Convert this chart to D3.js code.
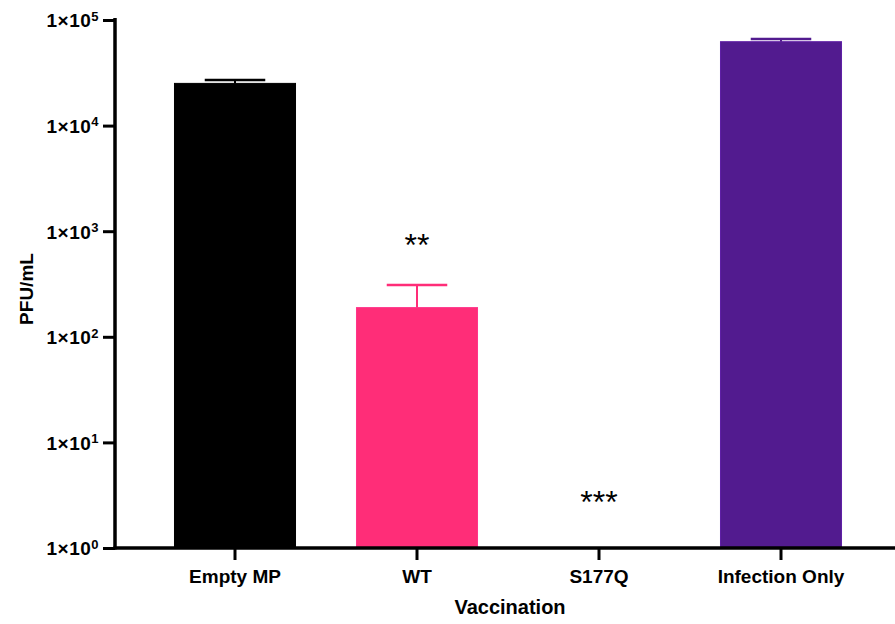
<!DOCTYPE html>
<html>
<head>
<meta charset="utf-8">
<script src="https://cdn.jsdelivr.net/npm/d3@7"></script>
<style>
  body { margin: 0; background: #fff; }
  text { font-family: "Liberation Sans", Arial, sans-serif; font-weight: bold; }
</style>
</head>
<body>
<svg id="chart" width="895" height="624"></svg>
<script>
const groups = ["Empty MP", "WT", "S177Q", "Infection Only"];
const means = [25100, 189, 1, 62300];
const errTop = [27000, 309, 1, 66000];
const colors = ["#000000", "#ff2d78", "#ffffff", "#521b8f"];
const stars = ["", "**", "***", ""];
const starLevel = [0, 1000, 3.7, 0]; // where the stars sit
const tickVals = [1, 10, 100, 1000, 10000, 100000];
const tickExp = [0, 1, 2, 3, 4, 5];

const svg = d3.select("#chart");

const y = d3.scaleLog().domain([1, 100000]).range([548, 20]);
const x = d3.scaleBand().domain(groups).range([144, 872])
    .paddingInner(0.335).paddingOuter(0.1675);

// bars
svg.selectAll(".bar").data(groups).enter().append("rect")
    .attr("class", "bar")
    .attr("x", d => x(d))
    .attr("width", x.bandwidth())
    .attr("y", (d, i) => y(means[i]))
    .attr("height", (d, i) => 548 - y(means[i]))
    .attr("fill", (d, i) => colors[i])
    .attr("stroke", (d, i) => i == 0 ? "#000" : d3.color(colors[i]).brighter(0.4))
    .attr("stroke-width", 1);

// error bars (upper only)
const errs = svg.selectAll(".err").data(groups.filter((d, i) => errTop[i] > means[i]))
    .enter().append("g").attr("class", "err");
errs.append("line")
    .attr("x1", d => x(d) + x.bandwidth() / 2)
    .attr("x2", d => x(d) + x.bandwidth() / 2)
    .attr("y1", d => y(means[groups.indexOf(d)]))
    .attr("y2", d => y(errTop[groups.indexOf(d)]))
    .attr("stroke", d => colors[groups.indexOf(d)])
    .attr("stroke-width", 2);
errs.append("line")
    .attr("x1", d => x(d) + x.bandwidth() / 4)
    .attr("x2", d => x(d) + x.bandwidth() * 3 / 4)
    .attr("y1", d => y(errTop[groups.indexOf(d)]))
    .attr("y2", d => y(errTop[groups.indexOf(d)]))
    .attr("stroke", d => colors[groups.indexOf(d)])
    .attr("stroke-width", 2.5);

// significance stars
svg.selectAll(".star").data(groups.filter((d, i) => stars[i]))
    .enter().append("text")
    .attr("x", d => x(d) + x.bandwidth() / 2)
    .attr("y", d => y(starLevel[groups.indexOf(d)]) + 25)
    .attr("text-anchor", "middle")
    .style("font-size", "32px")
    .style("font-weight", "normal")
    .text(d => stars[groups.indexOf(d)]);

// y axis
const yAxis = svg.append("g").attr("transform", "translate(115,0)")
    .call(d3.axisLeft(y).tickValues(tickVals).tickSize(12).tickFormat(""));
yAxis.select(".domain").attr("stroke-width", 3.5).attr("d", "M0,18V549.5");
yAxis.selectAll(".tick line").attr("stroke-width", 3);
yAxis.selectAll(".tick").append("text")
    .attr("x", -16).attr("dy", "0.36em")
    .attr("text-anchor", "end")
    .attr("fill", "#000")
    .style("font-size", "19px")
    .style("letter-spacing", "0.5px")
    .each(function(d, i) {
        const t = d3.select(this);
        t.append("tspan").text("1×10");
        t.append("tspan").attr("dy", "-0.5em").style("font-size", "13px").text(tickExp[i]);
    });

// x axis
const xAxis = svg.append("g").attr("transform", "translate(0,548)")
    .call(d3.axisBottom(x).tickSize(12).tickSizeOuter(0));
xAxis.select(".domain").attr("stroke-width", 3.5).attr("d", "M113.5,0H895");
xAxis.selectAll(".tick line").attr("stroke-width", 3);
xAxis.selectAll(".tick text")
    .attr("y", 22)
    .attr("fill", "#000")
    .style("font-size", "19px")
    .style("font-family", "'Liberation Sans', Arial, sans-serif")
    .style("font-weight", "bold");

// axis titles
svg.append("text")
    .attr("x", 510).attr("y", 614)
    .attr("text-anchor", "middle")
    .style("font-size", "20px")
    .text("Vaccination");
svg.append("text")
    .attr("transform", "translate(33,289) rotate(-90)")
    .attr("text-anchor", "middle")
    .style("font-size", "19px")
    .text("PFU/mL");
</script>
</body>
</html>
